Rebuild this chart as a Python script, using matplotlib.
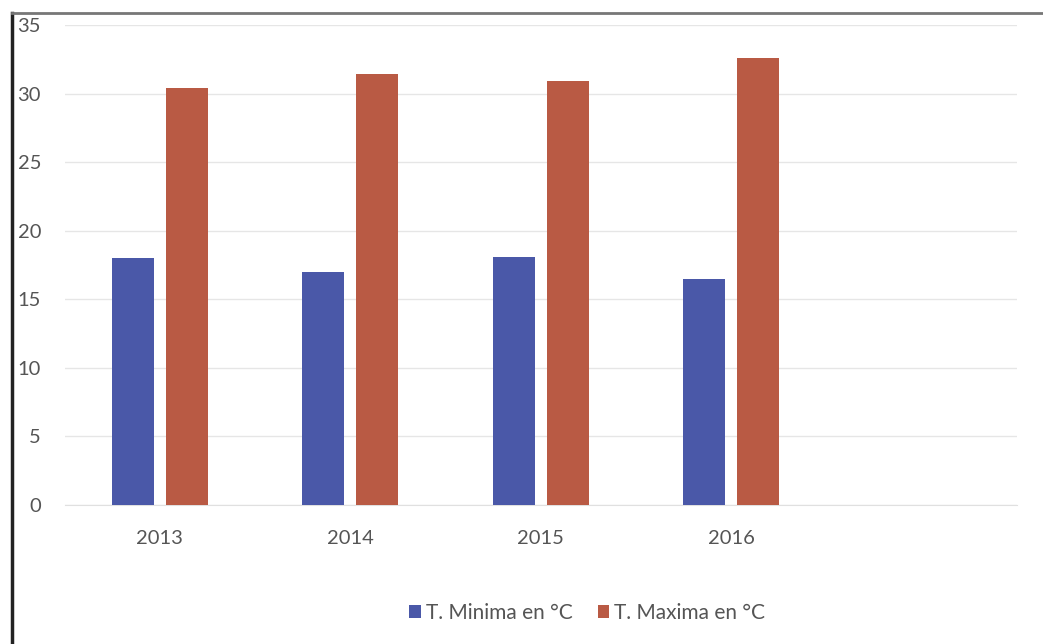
import matplotlib
matplotlib.use("Agg")
import matplotlib.pyplot as plt
from matplotlib.lines import Line2D
import numpy as np

plt.rcParams['font.family'] = ['Lato', 'DejaVu Sans']

categories = ["2013", "2014", "2015", "2016", ""]
t_min = [18.0, 17.0, 18.1, 16.5, None]
t_max = [30.4, 31.4, 30.9, 32.6, None]
series_names = ["T. Minima en °C", "T. Maxima en °C"]
yticks = [0, 5, 10, 15, 20, 25, 30, 35]

c_min = "#4a58a8"
c_max = "#b95a44"

fig = plt.figure(figsize=(10.43, 6.44), dpi=100)
ax = fig.add_axes([0.062, 0.216, 0.913, 0.745])

x = np.arange(len(categories))
w = 0.22
gap = 0.063
vals_min = [v if v is not None else 0 for v in t_min]
vals_max = [v if v is not None else 0 for v in t_max]
ax.bar(x - (w + gap) / 2, vals_min, width=w, color=c_min, label=series_names[0], zorder=3)
ax.bar(x + (w + gap) / 2, vals_max, width=w, color=c_max, label=series_names[1], zorder=3)

ax.set_xlim(-0.5, len(categories) - 0.5)
ax.set_ylim(0, 35)
ax.set_yticks(yticks)
ax.set_xticks(x[:4])
ax.set_xticklabels(categories[:4])
ax.yaxis.grid(True, color="#e6e6e6", linewidth=1, zorder=0)
ax.set_axisbelow(True)
for s in ax.spines.values():
    s.set_visible(False)
ax.spines['bottom'].set_visible(True)
ax.spines['bottom'].set_color("#e0e0e0")
ax.tick_params(axis='both', length=0, labelsize=14.5, labelcolor="#555555")
ax.tick_params(axis='y', pad=17)
ax.tick_params(axis='x', pad=18)
for lab in ax.get_yticklabels():
    lab.set_horizontalalignment('right')

fig.legend(loc='center', bbox_to_anchor=(0.563, 0.048), ncol=2, frameon=False,
           fontsize=15, handlelength=0.55, handleheight=0.55, handletextpad=0.25,
           columnspacing=1.2, labelcolor="#555555")

# scanned page border lines
fig.add_artist(Line2D([12/1043, 12/1043], [0, 1 - 13/644], color="#222222", linewidth=2.5))
fig.add_artist(Line2D([12/1043, 1], [1 - 13/644, 1 - 13/644], color="#777777", linewidth=2))

fig.savefig("out.png", dpi=100)
